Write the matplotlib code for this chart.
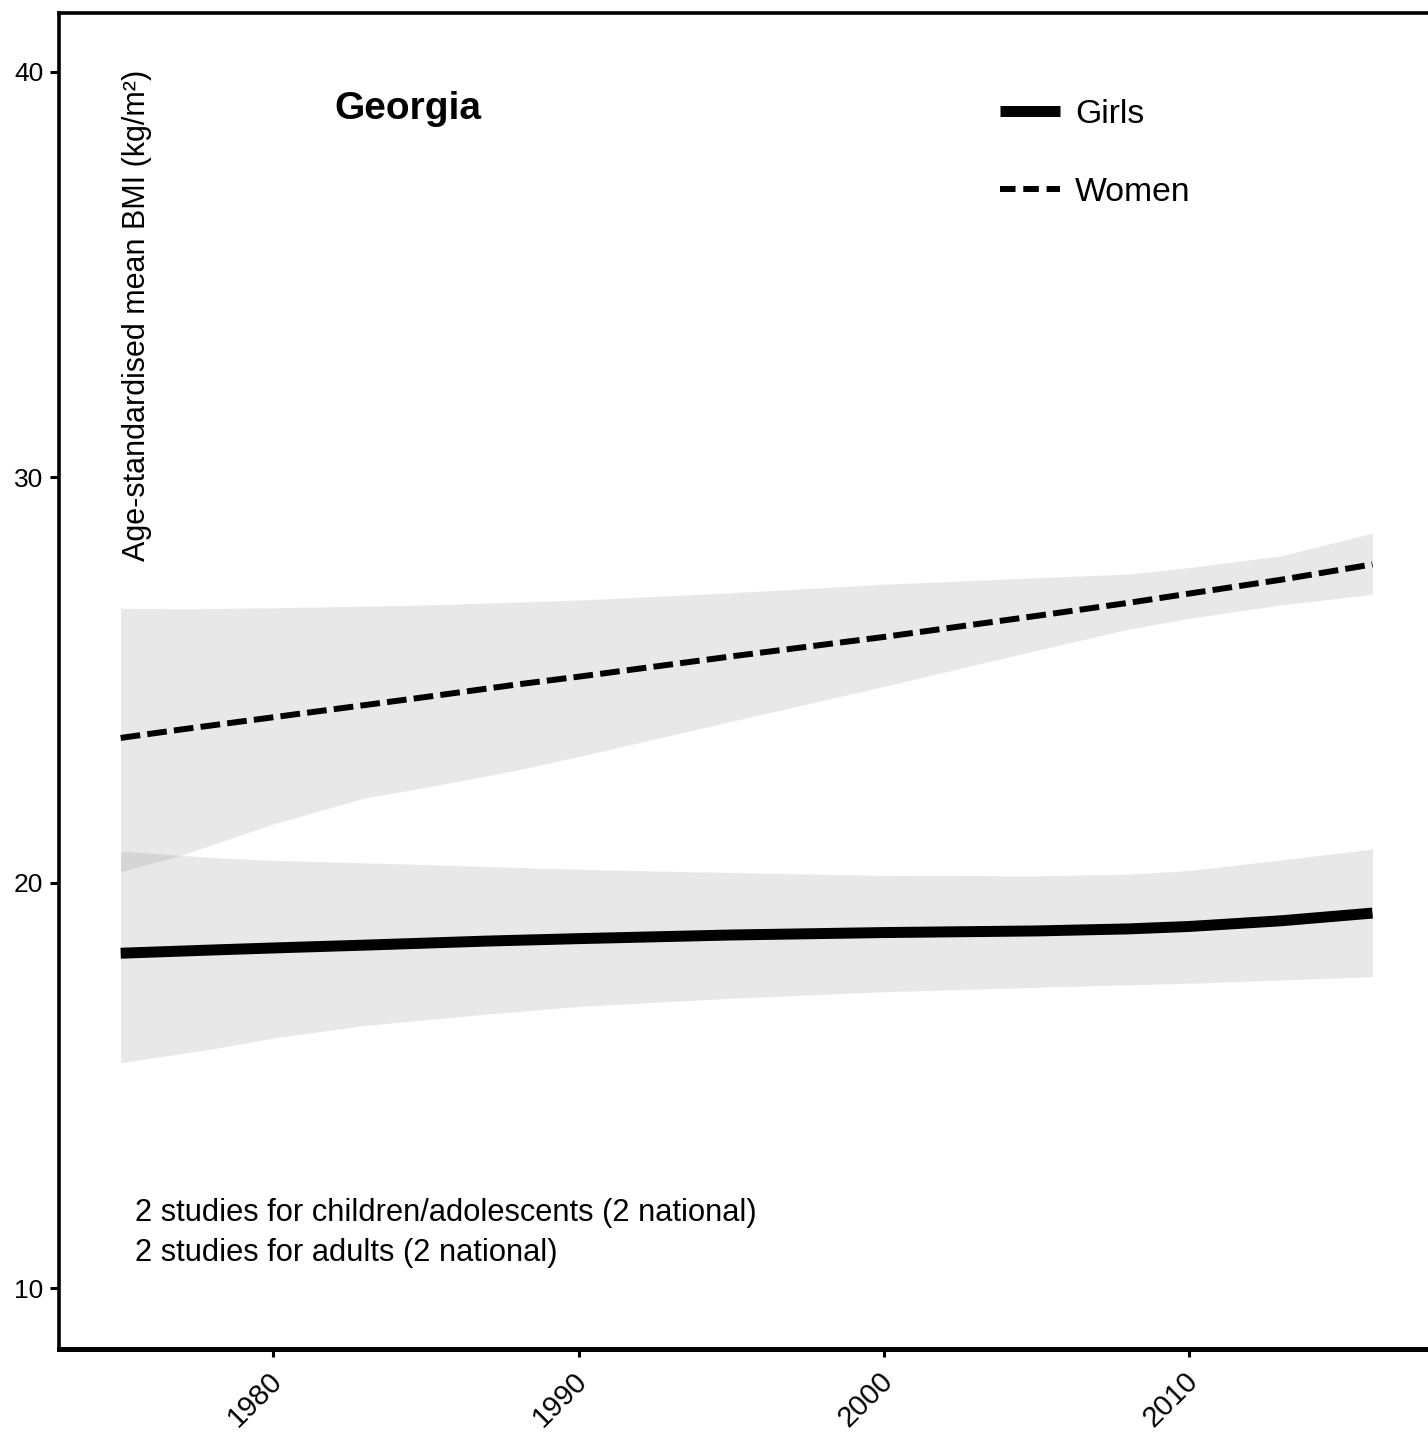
import matplotlib
matplotlib.use("Agg")
import matplotlib.pyplot as plt
import matplotlib.transforms as mtransforms
from matplotlib.lines import Line2D

plt.rcParams['font.family'] = ['Liberation Sans', 'DejaVu Sans']

# ---- data ----
women_years = [1975, 1977, 1980, 1983, 1985, 1988, 1990, 1995, 2000, 2005, 2008, 2010, 2013, 2016]
women_mean  = [23.57, 23.78, 24.08, 24.38, 24.58, 24.89, 25.08, 25.58, 26.06, 26.58, 26.90, 27.13, 27.47, 27.85]
women_upper = [26.77, 26.75, 26.78, 26.82, 26.85, 26.92, 26.97, 27.15, 27.36, 27.52, 27.61, 27.77, 28.06, 28.62]
women_lower = [20.27, 20.68, 21.45, 22.09, 22.35, 22.78, 23.11, 23.98, 24.84, 25.73, 26.25, 26.52, 26.85, 27.11]

girls_years = [1975, 1978, 1980, 1983, 1987, 1990, 1995, 2000, 2005, 2008, 2010, 2013, 2016]
girls_mean  = [18.26, 18.34, 18.39, 18.46, 18.56, 18.62, 18.71, 18.77, 18.81, 18.86, 18.92, 19.06, 19.25]
girls_upper = [20.78, 20.62, 20.55, 20.49, 20.40, 20.33, 20.25, 20.18, 20.17, 20.21, 20.30, 20.56, 20.83]
girls_lower = [15.56, 15.90, 16.17, 16.48, 16.76, 16.95, 17.15, 17.31, 17.42, 17.48, 17.52, 17.60, 17.68]

x_ticks = [1980, 1990, 2000, 2010]
y_ticks = [10, 20, 30, 40]
country = "Georgia"
series_labels = ["Girls", "Women"]
ylabel = "Age-standardised mean BMI (kg/m²)"
notes = ["2 studies for children/adolescents (2 national)",
         "2 studies for adults (2 national)"]

# ---- figure ----
W, H = 1428, 1453
fig = plt.figure(figsize=(W / 100, H / 100), dpi=100)
left_px, right_px, top_px, bottom_px = 59.3, 1428, 13.3, 1349
ax = fig.add_axes([left_px / W, (H - bottom_px) / H,
                   (right_px - left_px) / W, (bottom_px - top_px) / H])

band_color = '#8c8c8c'
ax.fill_between(women_years, women_lower, women_upper, color=band_color, alpha=0.2, lw=0)
ax.fill_between(girls_years, girls_lower, girls_upper, color=band_color, alpha=0.2, lw=0)
ax.plot(girls_years, girls_mean, color='black', lw=7.9, solid_capstyle='butt')
ax.plot(women_years, women_mean, color='black', lw=4.3, ls=(0, (3.3, 1.2)), dash_capstyle='butt')

ax.set_xlim(1972.99, 2017.82)
ax.set_ylim(8.50, 41.44)
ax.set_xticks(x_ticks)
ax.set_yticks(y_ticks)
ax.set_xticklabels([str(v) for v in x_ticks], rotation=45, ha='right', va='top', fontsize=21)
ax.set_yticklabels([str(v) for v in y_ticks], fontsize=19)
ax.tick_params(axis='y', length=6.5, width=2.2, pad=5, colors='black')
ax.tick_params(axis='x', length=6, width=2.2, pad=7, colors='black')
offset = mtransforms.ScaledTranslation(14 / 100, 0, fig.dpi_scale_trans)
for lbl in ax.get_xticklabels():
    lbl.set_transform(lbl.get_transform() + offset)

ax.spines['right'].set_visible(False)
ax.spines['left'].set_linewidth(2.6)
ax.spines['top'].set_linewidth(2.6)
ax.spines['bottom'].set_linewidth(3.6)

# texts
ax.text((137 - left_px) / (right_px - left_px), (bottom_px - 70) / (bottom_px - top_px),
        ylabel, rotation=90, ha='center', va='top', fontsize=22, transform=ax.transAxes)
ax.text((408 - left_px) / (right_px - left_px), (bottom_px - 109) / (bottom_px - top_px),
        country, ha='center', va='center', fontsize=28, fontweight='bold', transform=ax.transAxes)
for i, note in enumerate(notes):
    ax.text((135 - left_px) / (right_px - left_px), (bottom_px - (1221 + 40 * i)) / (bottom_px - top_px),
            note, ha='left', va='baseline', fontsize=22.25, transform=ax.transAxes)

handles = [Line2D([], [], color='black', lw=7.9, solid_capstyle='butt'),
           Line2D([], [], color='black', lw=4.3, ls=(0, (2.6, 1.3)), dash_capstyle='butt')]
leg = ax.legend(handles, series_labels, loc='upper left',
                bbox_to_anchor=((1000 - left_px) / (right_px - left_px), (bottom_px - 99) / (bottom_px - top_px)),
                frameon=False, fontsize=24.3, borderpad=0, borderaxespad=0,
                handlelength=1.78, handletextpad=0.44, labelspacing=1.38)

fig.savefig("out.png", dpi=100)
